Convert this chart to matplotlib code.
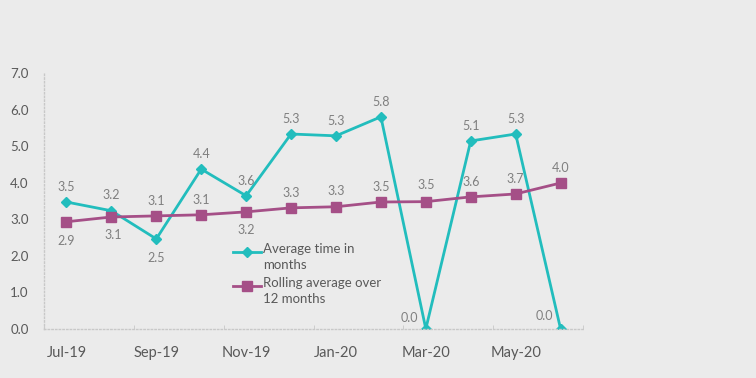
import numpy as np
import matplotlib.pyplot as plt
from matplotlib.lines import Line2D

months = ['Jul-19', 'Aug-19', 'Sep-19', 'Oct-19', 'Nov-19', 'Dec-19',
          'Jan-20', 'Feb-20', 'Mar-20', 'Apr-20', 'May-20', 'Jun-20']
avg_time = [3.47, 3.23, 2.46, 4.37, 3.64, 5.33, 5.28, 5.80, 0.0, 5.14, 5.33, 0.0]
rolling = [2.93, 3.06, 3.09, 3.12, 3.20, 3.31, 3.34, 3.47, 3.48, 3.61, 3.69, 3.99]
series_names = ['Average time in\nmonths', 'Rolling average over\n12 months']

# label offsets in points (dx, dy)
avg_off = [(0, 11), (0, 11), (0, -14), (0, 11), (0, 11), (0, 11),
           (0, 11), (0, 11), (-12, 8), (0, 11), (0, 11), (-12, 9)]
roll_off = [(0, -14), (1, -13), (0, 11), (0, 11), (0, -13), (0, 11),
            (0, 11), (0, 11), (0, 12), (0, 11), (0, 11), (0, 11)]

bg = '#ebebeb'
teal = '#22bdbd'
purple = '#a54f87'
txt = '#595959'
lbl = '#7f7f7f'

plt.rcParams['font.family'] = ['Lato', 'DejaVu Sans']

fig = plt.figure(figsize=(7.56, 3.78), dpi=100, facecolor=bg)
ax = fig.add_axes([0.0582, 0.130, 0.713, 0.677], facecolor=bg)

x = np.arange(len(months))
styles = [dict(color=teal, lw=2, marker='D', ms=5.5),
          dict(color=purple, lw=2, marker='s', ms=6.5)]
ax.plot(x, avg_time, **styles[0])
ax.plot(x, rolling, **styles[1])

for i in range(len(x)):
    ax.annotate(f'{avg_time[i]:.1f}', (x[i], avg_time[i]), xytext=avg_off[i],
                textcoords='offset points', ha='center', va='center',
                fontsize=9, color=lbl)
    ax.annotate(f'{rolling[i]:.1f}', (x[i], rolling[i]), xytext=roll_off[i],
                textcoords='offset points', ha='center', va='center',
                fontsize=9, color=lbl)

ax.set_xlim(-0.5, 11.5)
ax.set_ylim(0, 7)
ax.set_yticks(np.arange(0, 8, 1))
ax.set_yticklabels([f'{v:.1f}' for v in np.arange(0, 8, 1)])
ax.set_xticks(x[::2])
ax.set_xticklabels(months[::2])
ax.set_xticks(np.arange(-0.5, 12, 2), minor=True)
ax.tick_params(axis='x', which='major', length=0, pad=12, labelsize=10.5, labelcolor=txt)
ax.tick_params(axis='x', which='minor', length=3, direction='in', color='#c8c8c8')
ax.tick_params(axis='y', length=0, pad=11, labelsize=9.5, labelcolor=txt)

for s in ['top', 'right']:
    ax.spines[s].set_visible(False)
for s in ['left', 'bottom']:
    ax.spines[s].set_color('#c8c8c8')
    ax.spines[s].set_linestyle(':')
    ax.spines[s].set_linewidth(1)

# legend drawn by hand so the handle sits on the first text line
leg_y = [1 - 252 / 378, 1 - 286 / 378]
for name, st, y in zip(series_names, styles, leg_y):
    fig.add_artist(Line2D([0.308, 0.345], [y, y], color=st['color'], lw=st['lw']))
    fig.add_artist(Line2D([0.3265], [y], color=st['color'], marker=st['marker'],
                          ms=st['ms'], lw=0))
    fig.text(0.348, y + 0.0225, name, ha='left', va='top', fontsize=9.5,
             color=txt, linespacing=1.38)

fig.savefig('out.png', dpi=100, facecolor=bg)
